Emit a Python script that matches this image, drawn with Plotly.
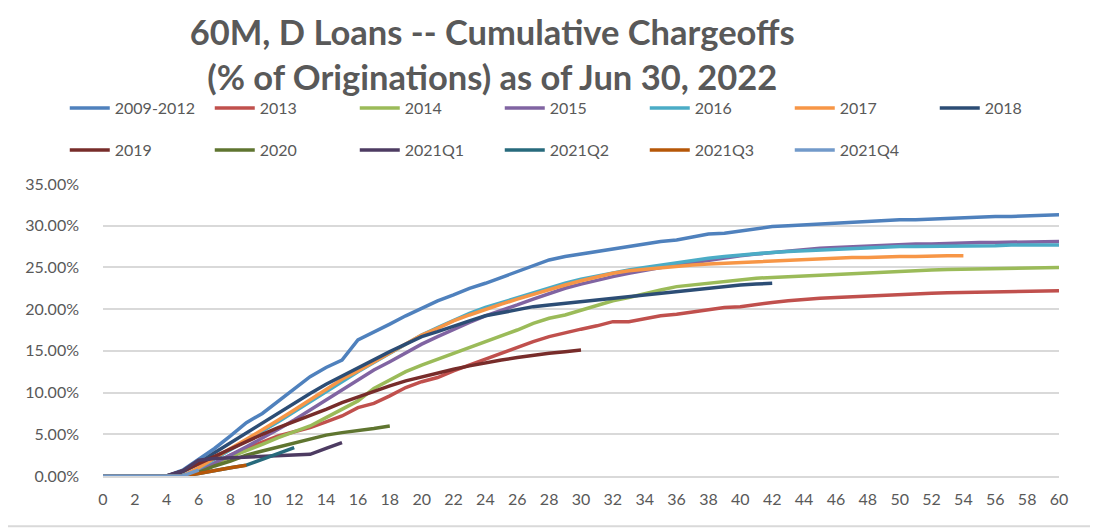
import plotly.graph_objs as go

months = list(range(0, 61))

s2009_2012 = [0, 0, 0, 0, 0, 0.7, 2.0, 3.3, 4.8, 6.4, 7.5, 9.0, 10.5, 11.9, 13.0, 13.9, 16.3, 17.2, 18.2, 19.2,
              20.1, 21.0, 21.7, 22.5, 23.1, 23.8, 24.6, 25.2, 25.9, 26.3, 26.6, 27.0, 27.3, 27.6, 27.8, 28.1,
              28.3, 28.7, 29.0, 29.1, 29.4, 29.6, 29.9, 30.0, 30.1, 30.3, 30.3, 30.4, 30.6, 30.6, 30.7, 30.7,
              30.8, 30.9, 30.9, 31.0, 31.1, 31.1, 31.2, 31.2, 31.3]
s2013 = [0, 0, 0, 0, 0, 0, 0.5, 1.5, 2.5, 3.3, 4.0, 4.8, 5.3, 5.8, 6.5, 7.2, 8.2, 8.7, 9.6, 10.6, 11.3, 11.8,
         12.6, 13.3, 14.0, 14.8, 15.5, 16.1, 16.7, 17.2, 17.6, 18.0, 18.5, 18.5, 18.9, 19.2, 19.4, 19.7, 20.0,
         20.2, 20.3, 20.6, 20.8, 21.0, 21.2, 21.3, 21.4, 21.5, 21.6, 21.7, 21.8, 21.85, 21.9, 21.95, 22.0,
         22.05, 22.1, 22.15, 22.2, 22.2, 22.2]
s2014 = [0, 0, 0, 0, 0, 0, 0.5, 1.5, 2.3, 3.0, 3.8, 4.6, 5.3, 6.0, 7.0, 8.0, 9.0, 10.5, 11.5, 12.5, 13.3, 14.0,
         14.7, 15.4, 16.0, 16.8, 17.5, 18.3, 18.9, 19.3, 19.9, 20.4, 21.0, 21.4, 21.9, 22.3, 22.7, 22.9, 23.2,
         23.4, 23.5, 23.7, 23.8, 23.9, 24.0, 24.1, 24.2, 24.3, 24.4, 24.5, 24.6, 24.65, 24.7, 24.75, 24.8,
         24.8, 24.85, 24.9, 24.9, 24.95, 25.0]
s2015 = [0, 0, 0, 0, 0, 0, 0.6, 1.5, 2.5, 3.5, 4.5, 5.6, 6.7, 7.9, 9.2, 10.4, 11.6, 12.7, 13.7, 14.8, 15.8, 16.7,
         17.6, 18.4, 19.2, 19.8, 20.5, 21.2, 21.9, 22.5, 23.0, 23.5, 23.9, 24.3, 24.7, 25.0, 25.3, 25.6, 25.9,
         26.1, 26.4, 26.6, 26.8, 26.9, 27.1, 27.3, 27.4, 27.5, 27.6, 27.7, 27.7, 27.8, 27.8, 27.9, 27.9, 28.0,
         28.0, 28.0, 28.1, 28.1, 28.1]
s2016 = [0, 0, 0, 0, 0, 0, 0.9, 2.0, 3.1, 4.2, 5.3, 6.5, 7.7, 8.9, 10.2, 11.4, 12.5, 13.6, 14.7, 15.8, 16.9, 17.8,
         18.7, 19.5, 20.2, 20.8, 21.4, 22.0, 22.6, 23.1, 23.6, 24.0, 24.4, 24.7, 25.0, 25.3, 25.6, 25.9, 26.1,
         26.3, 26.5, 26.7, 26.8, 26.9, 27.0, 27.1, 27.2, 27.3, 27.4, 27.4, 27.5, 27.5, 27.5, 27.6, 27.6, 27.6,
         27.6, 27.7, 27.7, 27.7, 27.7]
s2017 = [0, 0, 0, 0, 0, 0, 1.0, 2.2, 3.3, 4.4, 5.5, 6.7, 7.9, 9.1, 10.4, 11.6, 12.6, 13.7, 14.8, 15.9, 16.9, 17.7,
         18.6, 19.3, 20.0, 20.6, 21.2, 21.8, 22.4, 22.9, 23.4, 23.9, 24.3, 24.6, 24.8, 25.0, 25.1, 25.3, 25.4,
         25.5, 25.5, 25.6, 25.8, 25.9, 26.0, 26.0, 26.1, 26.2, 26.2, 26.3, 26.3, 26.3, 26.4, 26.4, 26.4]
s2018 = [0, 0, 0, 0, 0, 0.5, 1.5, 2.8, 4.0, 5.2, 6.4, 7.6, 8.8, 9.9, 11.0, 12.0, 13.0, 14.0, 14.9, 15.8, 16.7,
         17.3, 18.0, 18.6, 19.2, 19.6, 20.0, 20.3, 20.5, 20.7, 20.9, 21.1, 21.4, 21.6, 21.8, 21.9, 22.2, 22.4,
         22.6, 22.7, 22.9, 23.0, 23.1]
s2019 = [0, 0, 0, 0, 0, 0.6, 1.5, 2.4, 3.3, 4.2, 5.0, 5.8, 6.5, 7.3, 8.0, 8.8, 9.5, 10.2, 10.8, 11.4, 11.9,
         12.4, 12.8, 13.2, 13.6, 13.9, 14.2, 14.5, 14.7, 14.9, 15.1]
s2020 = [0, 0, 0, 0, 0, 0, 0.4, 1.2, 1.8, 2.5, 3.0, 3.5, 4.0, 4.5, 4.9, 5.2, 5.4, 5.7, 6.0]
s2021q1 = [0, 0, 0, 0, 0, 0.6, 1.9, 2.1, 2.2, 2.3, 2.4, 2.5, 2.6, 2.6, 3.3, 4.0]
s2021q2 = [0, 0, 0, 0, 0, 0, 0.3, 0.7, 1.0, 1.3, 2.0, 2.7, 3.4]
s2021q3 = [0, 0, 0, 0, 0, 0, 0.3, 0.7, 1.0, 1.3]
s2021q4 = [0, 0, 0, 0, 0, 0, 0.7]

series = [
    ('2009-2012', s2009_2012, '#4F81BD'),
    ('2013', s2013, '#C0504D'),
    ('2014', s2014, '#9BBB59'),
    ('2015', s2015, '#8064A2'),
    ('2016', s2016, '#4BACC6'),
    ('2017', s2017, '#F79646'),
    ('2018', s2018, '#2C4D75'),
    ('2019', s2019, '#772C2A'),
    ('2020', s2020, '#5F7530'),
    ('2021Q1', s2021q1, '#4D3B62'),
    ('2021Q2', s2021q2, '#276A7C'),
    ('2021Q3', s2021q3, '#B65708'),
    ('2021Q4', s2021q4, '#729ACA'),
]

fig = go.Figure()

for i, (name, vals, color) in enumerate(series):
    fig.add_trace(go.Scatter(
        x=months[:len(vals)],
        y=vals,
        mode='lines',
        name=name,
        line=dict(color=color, width=3.5),
        legend='legend' if i < 7 else 'legend2',
    ))

grey = '#595959'
# page body has an 8px margin, so margins below are shifted by 8px
legend_style = dict(
    orientation='h',
    font=dict(family='Lato', size=16, color=grey),
    entrywidth=90,
    entrywidthmode='pixels',
    bgcolor='rgba(0,0,0,0)',
    xanchor='left',
    yanchor='middle',
    itemwidth=40,
)

fig.update_layout(
    width=1098,
    height=529,
    title={
        'text': '<b>60M, D Loans -- Cumulative Chargeoffs<br>(% of Originations) as of Jun 30, 2022</b>',
        'font': {'family': 'Lato', 'size': 34.5, 'color': grey},
        'x': 0.441,
        'xref': 'container',
        'xanchor': 'center',
        'y': 0.930,
        'yref': 'container',
        'yanchor': 'middle',
    },
    plot_bgcolor='white',
    paper_bgcolor='white',
    margin=dict(l=95, r=47, t=176, b=61),
    showlegend=True,
    legend=dict(legend_style, x=-0.04, y=1.26),
    legend2=dict(legend_style, x=-0.04, y=1.116),
    font=dict(family='Lato', color=grey),
)

fig.update_xaxes(
    range=[0, 60],
    tickmode='linear',
    tick0=0,
    dtick=2,
    showgrid=False,
    showline=True,
    linecolor='#D9D9D9',
    linewidth=1.5,
    tickfont=dict(family='Lato', size=16, color=grey),
    ticks='',
    ticklabelstandoff=8,
    zeroline=False,
)

fig.update_yaxes(
    range=[0, 35],
    tickmode='linear',
    tick0=0,
    dtick=5,
    tickformat='.2f',
    ticksuffix='%',
    gridcolor='#D9D9D9',
    gridwidth=1.5,
    zeroline=False,
    tickfont=dict(family='Lato', size=16, color=grey),
    ticklabelstandoff=23,
)

fig.add_shape(type='rect', xref='paper', yref='paper',
              x0=-0.103, x1=1.036, y0=-0.172, y1=1.62,
              line=dict(color='#D9D9D9', width=2))

fig.write_html("out.html")
